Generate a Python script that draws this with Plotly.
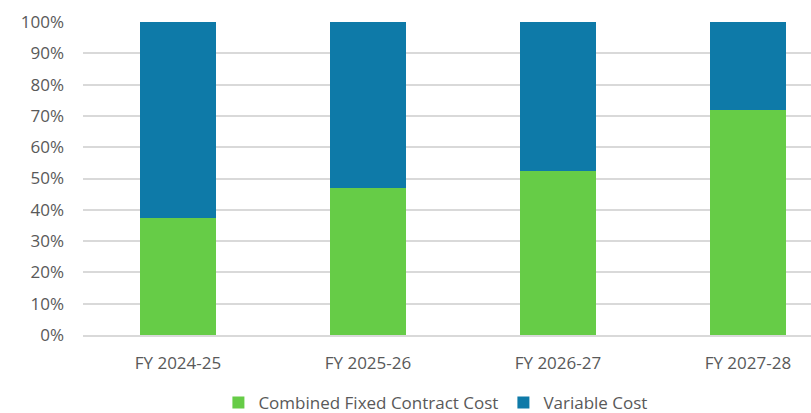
import plotly.graph_objects as go

categories = ["FY 2024-25", "FY 2025-26", "FY 2026-27", "FY 2027-28"]
fixed_cost = [37.3, 46.9, 52.3, 71.9]
variable_cost = [100 - v for v in fixed_cost]

GREEN = "#66CC47"
BLUE = "#0E7AA8"
FONT = dict(family="Open Sans", size=17, color="#595959")

fig = go.Figure()
fig.add_trace(go.Bar(x=categories, y=fixed_cost, name="Combined Fixed Contract Cost",
                     marker=dict(color=GREEN, line=dict(width=0)), width=0.4))
fig.add_trace(go.Bar(x=categories, y=variable_cost, name="Variable Cost",
                     marker=dict(color=BLUE, line=dict(width=0)), width=0.4))

fig.update_layout(
    barmode="stack",
    width=811, height=413,
    margin=dict(l=83, r=0, t=22, b=78, autoexpand=False),
    paper_bgcolor="white", plot_bgcolor="white",
    font=FONT,
    showlegend=True,
    legend=dict(orientation="h", x=0.186, y=-0.217, xanchor="left", yanchor="middle",
                font=FONT, traceorder="normal", itemwidth=30, entrywidth=240),
    xaxis=dict(range=[-0.5, 3.332], showgrid=False, showline=True, linecolor="#d9d9d9",
               linewidth=1.5, ticks="", tickfont=FONT, ticklabelstandoff=12),
    yaxis=dict(range=[0, 100], tickvals=list(range(0, 101, 10)),
               ticktext=[f"{v}%" for v in range(0, 101, 10)],
               showgrid=True, gridcolor="#d9d9d9", gridwidth=1.5, zeroline=False,
               tickfont=FONT, ticklabelstandoff=18),
)

fig.write_html("out.html")
